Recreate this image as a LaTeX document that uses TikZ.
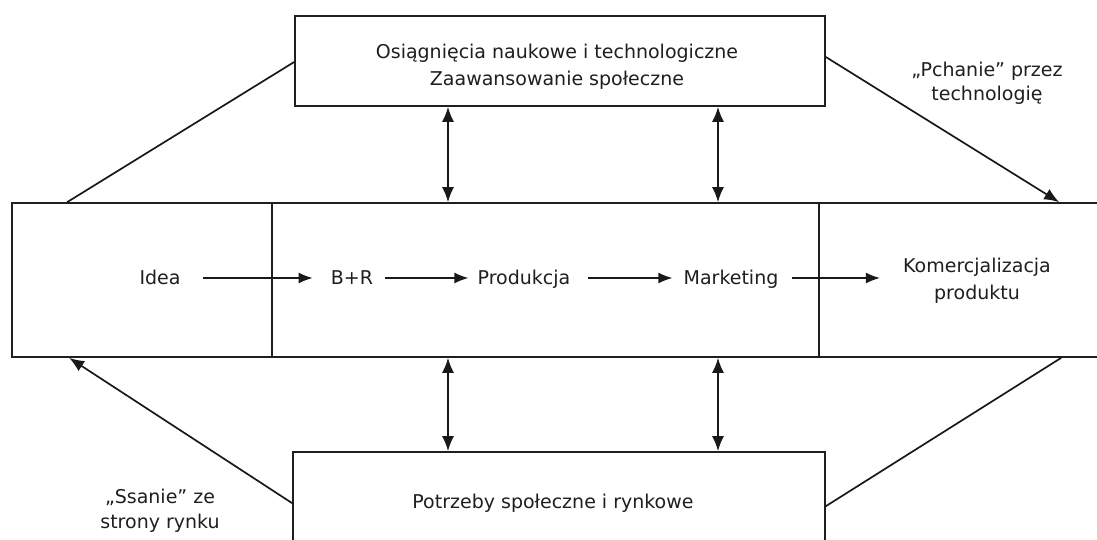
\documentclass[tikz,border=0pt]{standalone}
\usepackage{fontspec}
\setmainfont{DejaVu Sans}
\usetikzlibrary{arrows.meta,calc}
\begin{document}
\begin{tikzpicture}[x=1pt,y=-1pt,
  box/.style={draw=black!88,line width=1.7pt,rectangle,inner sep=0pt},
  lbl/.style={inner sep=0pt,font=\fontsize{19}{27}\selectfont,text=black!88,align=center,anchor=base},
  flow/.style={draw=black!90,line width=1.7pt,-{Latex[length=14pt,width=11pt]}},
  dbl/.style={draw=black!90,line width=1.7pt,{Latex[length=15pt,width=12pt]}-{Latex[length=15pt,width=12pt]}},
  diag/.style={draw=black!90,line width=1.7pt},
  diagarr/.style={draw=black!90,line width=1.7pt,-{Latex[length=15pt,width=12pt]}}]
\clip (0,0) rectangle (1097,539);
\fill[white] (0,0) rectangle (1097,539);
% boxes
\node[box,minimum width=530pt,minimum height=90pt] (top) at (560,61) {};
\node[box,minimum width=260pt,minimum height=154pt] (left) at (142,280) {};
\node[box,minimum width=547pt,minimum height=154pt] (mid) at (545.5,280) {};
\node[box,minimum width=300pt,minimum height=154pt] (right) at (969,280) {};
\node[box,minimum width=532pt,minimum height=160pt] (bottom) at (559,532) {};
% texts
\node[lbl] (topt) at (557,85) {Osiągnięcia naukowe i technologiczne\\Zaawansowanie społeczne};
\node[lbl] (idea) at (160,284) {Idea};
\node[lbl] (br) at (352,284) {B+R};
\node[lbl] (prod) at (524,284) {Produkcja};
\node[lbl] (mkt) at (731,284) {Marketing};
\node[lbl] (kom) at (977,299) {Komercjalizacja\\produktu};
\node[lbl] (need) at (553,508) {Potrzeby społeczne i rynkowe};
\node[lbl,font=\fontsize{19}{24}\selectfont] (push) at (987,100) {„Pchanie” przez\\technologię};
\node[lbl,font=\fontsize{19}{25}\selectfont] (pull) at (160,528) {„Ssanie” ze\\strony rynku};
% horizontal flow arrows
\draw[flow,shorten <=22pt,shorten >=18pt] (idea.east |- 0,278) -- (br.west |- 0,278);
\draw[flow,shorten <=12pt,shorten >=9pt] (br.east |- 0,278) -- (prod.west |- 0,278);
\draw[flow,shorten <=17pt,shorten >=11pt] (prod.east |- 0,278) -- (mkt.west |- 0,278);
\draw[flow,shorten <=13pt,shorten >=23pt] (mkt.east |- 0,278) -- (kom.west |- 0,278);
% vertical double arrows
\coordinate (ca) at (448,0);
\coordinate (cb) at (718,0);
\draw[dbl] (top.south -| ca) -- (mid.north -| ca);
\draw[dbl] (top.south -| cb) -- (mid.north -| cb);
\draw[dbl] (mid.south -| ca) -- (bottom.north -| ca);
\draw[dbl] (mid.south -| cb) -- (bottom.north -| cb);
% diagonal lines
\draw[diag] ([yshift=-1pt]top.west) -- ([xshift=56pt]left.north west);
\draw[diagarr] ([yshift=4pt]top.east) -- ([xshift=241pt]right.north west);
\draw[diagarr] ([yshift=-52pt]bottom.north west) -- ([xshift=58pt]left.south west);
\draw[diag] ([yshift=-55pt]bottom.north east) -- ([xshift=243pt]right.south west);
\end{tikzpicture}
\end{document}
